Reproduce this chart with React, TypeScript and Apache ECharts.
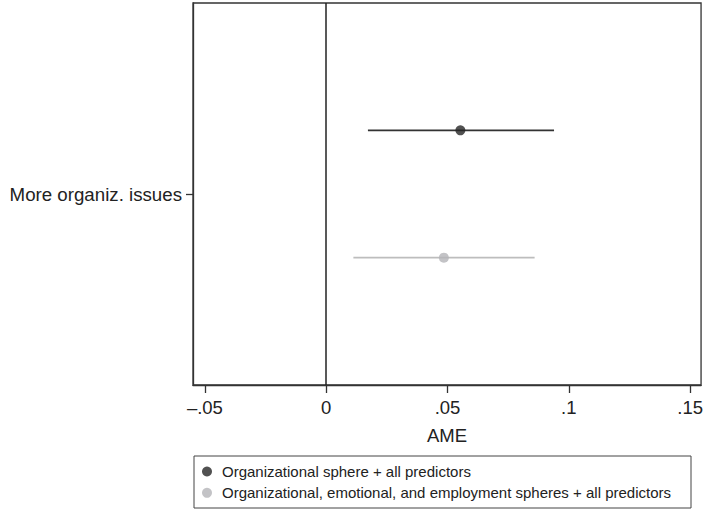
import React, { useEffect, useRef } from "react";
import * as echarts from "echarts";

const categories = ["More organiz. issues"];
const seriesNames = [
  "Organizational sphere + all predictors",
  "Organizational, emotional, and employment spheres + all predictors",
];
const estimates = [0.0553, 0.0485];
const ciLow = [0.0172, 0.0112];
const ciHigh = [0.0939, 0.0859];
const rowPos = [2, 1];
const xTicks = [-0.05, 0, 0.05, 0.1, 0.15];
const pointColors = ["#262626", "#b4b4b8"];
const lineColors = ["#333333", "#bdbdbd"];

const fmt = (v: number) => {
  if (Math.abs(v) < 1e-9) return "0";
  const s = Math.abs(v).toFixed(2).replace(/0+$/, "").replace(/^0/, "");
  return (v < 0 ? "\u2013" : "") + s;
};

export default function App() {
  const ref = useRef<HTMLDivElement>(null);
  useEffect(() => {
    if (!ref.current) return;
    const chart = echarts.init(ref.current, null, { renderer: "svg" });
    const font = "'Liberation Sans', Arial, Helvetica, sans-serif";
    const series: any[] = [];
    seriesNames.forEach((name, i) => {
      series.push({
        name: name + " CI",
        type: "custom",
        silent: true,
        data: [[ciLow[i], ciHigh[i], rowPos[i]]],
        renderItem: (params: any, api: any) => {
          const a = api.coord([api.value(0), api.value(2)]);
          const b = api.coord([api.value(1), api.value(2)]);
          return {
            type: "line",
            shape: { x1: a[0], y1: a[1], x2: b[0], y2: b[1] },
            style: { stroke: lineColors[i], lineWidth: 1.6 },
          };
        },
        z: 2,
      });
    });
    seriesNames.forEach((name, i) => {
      const s: any = {
        name,
        type: "scatter",
        symbol: "circle",
        symbolSize: 10,
        itemStyle: { color: pointColors[i] },
        data: [[estimates[i], rowPos[i]]],
        z: 3,
      };
      if (i === 0) {
        s.markLine = {
          silent: true,
          symbol: "none",
          label: { show: false },
          lineStyle: { color: "#222", width: 1.5, type: "solid" },
          data: [{ xAxis: 0 }],
        };
      }
      series.push(s);
    });
    chart.setOption({
      animation: false,
      textStyle: { fontFamily: font },
      grid: {
        left: 193,
        right: 2,
        top: 3,
        bottom: 124,
        show: true,
        borderColor: "#333",
        borderWidth: 1.3,
        containLabel: false,
      },
      xAxis: {
        type: "value",
        min: -0.0549,
        max: 0.1545,
        name: "AME",
        nameLocation: "middle",
        nameGap: 41,
        nameTextStyle: { fontSize: 18.5, color: "#222", fontFamily: font },
        splitLine: { show: false },
        axisLine: { show: true, onZero: false, lineStyle: { color: "#333", width: 1.3 } },
        axisTick: {
          show: true,
          inside: false,
          length: 8,
          customValues: xTicks,
          lineStyle: { color: "#333", width: 1.3 },
        },
        axisLabel: {
          customValues: xTicks,
          formatter: (v: number) => fmt(v),
          fontSize: 18.5,
          color: "#222",
          margin: 13,
          fontFamily: font,
        },
      },
      yAxis: {
        type: "value",
        min: 0,
        max: 3,
        splitLine: { show: false },
        axisLine: { show: true, onZero: false, lineStyle: { color: "#333", width: 1.3 } },
        axisTick: {
          show: true,
          inside: false,
          length: 7,
          customValues: [1.5],
          lineStyle: { color: "#333", width: 1.3 },
        },
        axisLabel: {
          customValues: [1.5],
          formatter: () => categories[0],
          fontSize: 18.7,
          color: "#222",
          margin: 11,
          fontFamily: font,
        },
      },
      legend: {
        data: seriesNames,
        orient: "vertical",
        left: 202,
        top: 464,
        itemWidth: 10,
        itemHeight: 10,
        itemGap: 6.3,
        icon: "circle",
        padding: 0,
        textStyle: {
          fontSize: 15,
          color: "#222",
          fontFamily: font,
          padding: [0, 0, 0, 5],
        },
      },
      graphic: [
        {
          type: "rect",
          shape: { x: 194, y: 456, width: 497, height: 52 },
          style: { fill: "none", stroke: "#444", lineWidth: 1 },
          silent: true,
        },
      ],
      series,
    });
    return () => chart.dispose();
  }, []);
  return <div ref={ref} style={{ width: 706, height: 509, position: "absolute", left: 0, top: 0 }} />;
}
